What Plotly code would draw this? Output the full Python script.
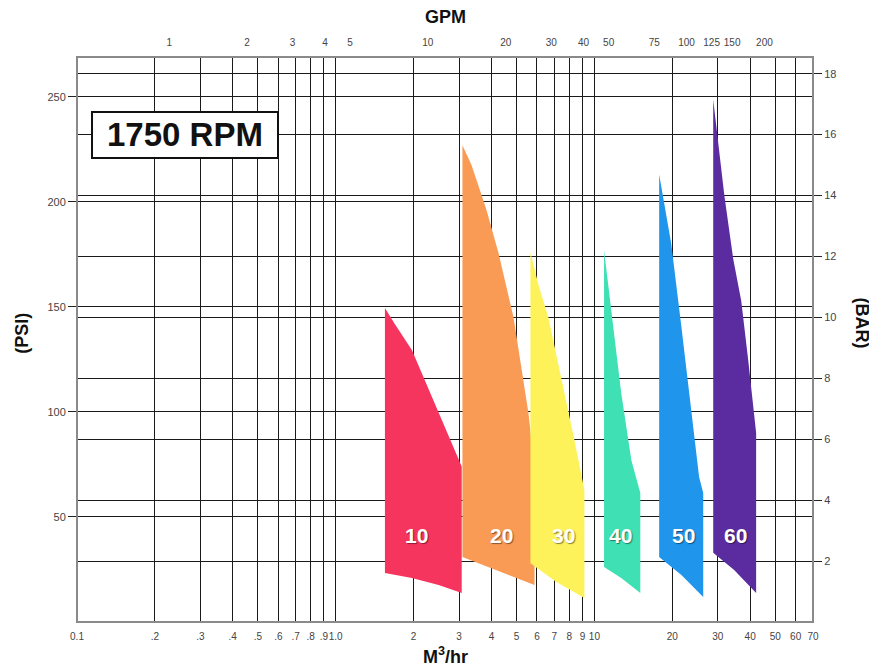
import math
import plotly.graph_objects as go

# ---------------- data ----------------
pump_names = ["10", "20", "30", "40", "50", "60"]
pump_colors = ["#F6355E", "#F99A55", "#FDF25A", "#3FE0B4", "#1F95EC", "#5A2CA0"]

flow_top_10 = [1.55, 1.69, 1.97, 2.29, 2.64, 3.07]
psi_top_10 = [149.5, 142, 129.5, 110.5, 93, 74]
flow_bot_10 = [1.55, 1.97, 2.50, 3.07]
psi_bot_10 = [23.3, 21, 17.6, 13.8]

flow_top_20 = [3.09, 3.35, 3.83, 4.26, 4.87, 5.32, 5.56, 5.76, 5.87]
psi_top_20 = [227, 217.6, 196, 175.7, 145, 116, 99.5, 82, 67.6]
flow_bot_20 = [3.09, 4.18, 5.87]
psi_bot_20 = [31, 24.8, 17.6]

flow_top_30 = [5.66, 6.08, 6.64, 7.46, 8.37, 9.15]
psi_top_30 = [176, 160.5, 145, 116, 86.7, 62.9]
flow_bot_30 = [5.66, 7.13, 9.15]
psi_bot_30 = [28, 19, 11.4]

flow_top_40 = [10.9, 11.8, 12.7, 13.9, 15.05]
psi_top_40 = [177, 140.5, 109, 77, 61.4]
flow_bot_40 = [10.9, 12.7, 15.05]
psi_bot_40 = [26.2, 21, 13.8]

flow_top_50 = [17.8, 19.8, 21.7, 23.7, 25.4, 26.35]
psi_top_50 = [213, 180.5, 140.5, 101, 69, 61.4]
flow_bot_50 = [17.8, 21.7, 26.35]
psi_bot_50 = [31, 22.4, 11.9]

flow_top_60 = [28.8, 29.85, 31.8, 34.4, 36.95, 39.3, 42.2]
psi_top_60 = [248.6, 232, 203, 173, 153, 125, 90]
flow_bot_60 = [28.8, 34.7, 42.2]
psi_bot_60 = [33, 24.8, 13.8]

label_flow = [2.06, 4.37, 7.6, 12.6, 22.1, 35.0]
label_psi = [41, 41, 41, 41, 41, 41]

m3_ticks = [0.1, 0.2, 0.3, 0.4, 0.5, 0.6, 0.7, 0.8, 0.9, 1, 2, 3, 4, 5, 6, 7, 8, 9,
            10, 20, 30, 40, 50, 60, 70]
m3_labels = ["0.1", ".2", ".3", ".4", ".5", ".6", ".7", ".8", ".9", "1.0", "2", "3", "4",
             "5", "6", "7", "8", "9", "10", "20", "30", "40", "50", "60", "70"]
gpm_ticks = [1, 2, 3, 4, 5, 10, 20, 30, 40, 50, 75, 100, 125, 150, 200]
psi_ticks = [50, 100, 150, 200, 250]
bar_ticks = [2, 4, 6, 8, 10, 12, 14, 16, 18]

GPM_TO_M3H = 0.227125
PSI_PER_BAR = 14.5038
X_MIN, X_MAX = 0.1, 70
PSI_MAX = 269

series = [
    (flow_top_10, psi_top_10, flow_bot_10, psi_bot_10),
    (flow_top_20, psi_top_20, flow_bot_20, psi_bot_20),
    (flow_top_30, psi_top_30, flow_bot_30, psi_bot_30),
    (flow_top_40, psi_top_40, flow_bot_40, psi_bot_40),
    (flow_top_50, psi_top_50, flow_bot_50, psi_bot_50),
    (flow_top_60, psi_top_60, flow_bot_60, psi_bot_60),
]

fig = go.Figure()
for name, color, (ft, pt, fb, pb) in zip(pump_names, pump_colors, series):
    xs = list(ft) + list(reversed(fb))
    ys = list(pt) + list(reversed(pb))
    fig.add_trace(go.Scatter(x=xs, y=ys, mode="lines", fill="toself",
                             fillcolor=color, line=dict(width=0, color=color),
                             name=name, showlegend=False, hoverinfo="skip",
                             xaxis="x", yaxis="y"))

# invisible helper traces so the GPM (top) and BAR (right) axes are drawn
fig.add_trace(go.Scatter(x=label_flow, y=label_psi, mode="markers", marker=dict(opacity=0),
                         showlegend=False, hoverinfo="skip", xaxis="x2", yaxis="y"))
fig.add_trace(go.Scatter(x=label_flow, y=[p / PSI_PER_BAR for p in label_psi], mode="markers",
                         marker=dict(opacity=0), showlegend=False, hoverinfo="skip",
                         xaxis="x", yaxis="y2"))

for name, fx, fy in zip(pump_names, label_flow, label_psi):
    fig.add_annotation(x=math.log10(fx), y=fy, xref="x", yref="y", text="<b>%s</b>" % name,
                       showarrow=False,
                       font=dict(family="Liberation Sans, Arial", size=21, color="white",
                                 shadow="1px 1px 1px rgba(0,0,0,0.45)"))

grid_color = "#1a1a1a"
tick_font = dict(family="Liberation Sans, Arial", size=11, color="#444")
tick_font_small = dict(family="Liberation Sans, Arial", size=10, color="#444")

# page body has an 8px margin, so the figure is offset by 8px
fig.update_layout(
    width=869, height=658,
    margin=dict(l=69, r=64, t=49, b=44, autoexpand=False),
    paper_bgcolor="white", plot_bgcolor="white",
    showlegend=False,
    xaxis=dict(type="log", range=[math.log10(X_MIN), math.log10(X_MAX)],
               tickvals=m3_ticks, ticktext=m3_labels, tickfont=tick_font_small, tickangle=0,
               showgrid=True, gridcolor=grid_color, gridwidth=1.3,
               ticks="outside", ticklen=5, tickcolor="rgba(0,0,0,0)",
               zeroline=False, showline=False, automargin=False),
    xaxis2=dict(type="log", range=[math.log10(X_MIN), math.log10(X_MAX)],
                overlaying="x", side="top", anchor="y",
                tickvals=[g * GPM_TO_M3H for g in gpm_ticks],
                ticktext=[str(g) for g in gpm_ticks], tickfont=tick_font_small, tickangle=0,
                showgrid=False, ticks="outside", ticklen=6, tickcolor="rgba(0,0,0,0)",
                zeroline=False, showline=False, automargin=False),
    yaxis=dict(range=[0, PSI_MAX], tickvals=psi_ticks, tickfont=tick_font,
               showgrid=True, gridcolor=grid_color, gridwidth=1.3,
               ticks="outside", ticklen=8, tickcolor="#222", tickwidth=1.2,
               zeroline=False, showline=False, automargin=False),
    yaxis2=dict(range=[0, PSI_MAX / PSI_PER_BAR], overlaying="y", side="right", anchor="x",
                tickvals=bar_ticks, tickfont=tick_font,
                showgrid=True, gridcolor=grid_color, gridwidth=1.3,
                ticks="outside", ticklen=8, tickcolor="#222", tickwidth=1.2,
                zeroline=False, showline=False, automargin=False),
)

# plot border
fig.add_shape(type="rect", xref="paper", yref="paper", x0=0, x1=1, y0=0, y1=1,
              line=dict(color="#8a8a8a", width=2), fillcolor="rgba(0,0,0,0)", layer="above")

# RPM box
fig.add_shape(type="rect", xref="paper", yref="paper", x0=0.0204, x1=0.2731, y0=0.8212, y1=0.9027,
              line=dict(color="#111", width=2), fillcolor="white", layer="above")
fig.add_annotation(xref="paper", yref="paper", x=0.1467, y=0.862, text="<b>1750 RPM</b>",
                   showarrow=False, xanchor="center", yanchor="middle",
                   font=dict(family="Liberation Sans, Arial", size=33, color="#111"))

title_font = dict(family="Liberation Sans, Arial", size=18, color="#111")
fig.add_annotation(xref="paper", yref="paper", x=0.5, y=1, yshift=40, text="<b>GPM</b>",
                   showarrow=False, xanchor="center", yanchor="middle", font=title_font)
fig.add_annotation(xref="paper", yref="paper", x=0.5, y=0, yshift=-33, text="<b>M<sup>3</sup>/hr</b>",
                   showarrow=False, xanchor="center", yanchor="middle", font=title_font)
fig.add_annotation(xref="paper", yref="paper", x=0, xshift=-55, y=0.51, text="<b>(PSI)</b>",
                   showarrow=False, textangle=-90, xanchor="center", yanchor="middle",
                   font=title_font)
fig.add_annotation(xref="paper", yref="paper", x=1, xshift=49, y=0.53, text="<b>(BAR)</b>",
                   showarrow=False, textangle=90, xanchor="center", yanchor="middle",
                   font=title_font)

fig.write_html("out.html")
